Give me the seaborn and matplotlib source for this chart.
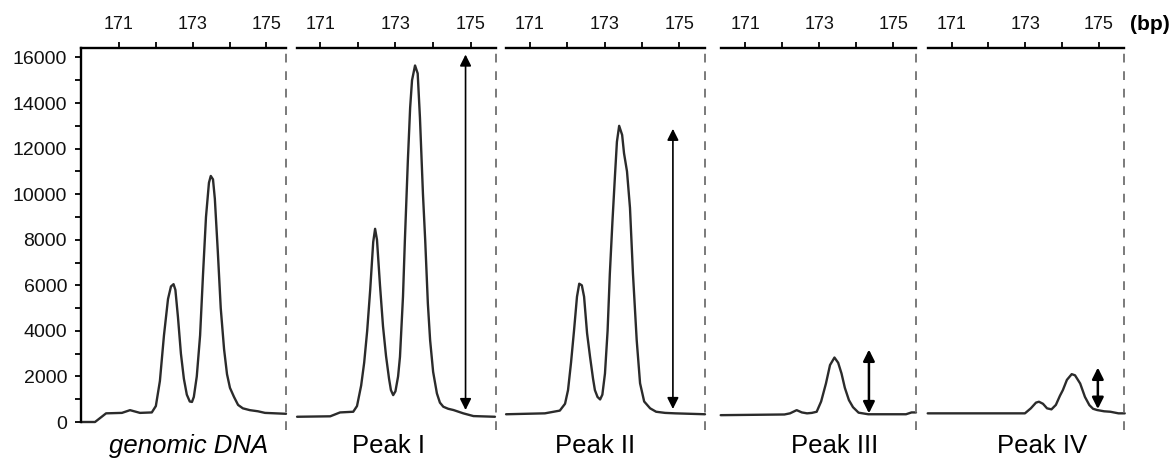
import matplotlib
matplotlib.use("Agg")
import matplotlib.pyplot as plt
import seaborn as sns
import pandas as pd

# ---------------- data (fragment size in bp, signal in RFU) ----------------
panel_names = ["genomic DNA", "Peak I", "Peak II", "Peak III", "Peak IV"]

gdna_bp = [169.97, 170.35, 170.65, 171.08, 171.30, 171.57, 171.89, 172.00, 172.11, 172.22,
           172.33, 172.41, 172.48, 172.53, 172.60, 172.68, 172.76, 172.84, 172.92, 172.98,
           173.03, 173.11, 173.20, 173.28, 173.36, 173.44, 173.49, 173.55, 173.60, 173.68,
           173.76, 173.85, 173.93, 174.01, 174.12, 174.23, 174.36, 174.55, 174.77, 174.96, 175.53]
gdna_rfu = [0, 0, 380, 400, 520, 400, 420, 700, 1800, 3800,
            5400, 5950, 6050, 5800, 4600, 3000, 1900, 1200, 900, 880,
            1100, 2000, 3800, 6500, 9000, 10500, 10800, 10650, 9800, 7500,
            5000, 3200, 2100, 1500, 1100, 750, 600, 520, 470, 400, 360]

p1_bp = [170.39, 171.27, 171.53, 171.88, 171.98, 172.09, 172.17, 172.25, 172.33, 172.41,
         172.46, 172.51, 172.59, 172.67, 172.75, 172.83, 172.88, 172.94, 173.00, 173.07,
         173.12, 173.20, 173.25, 173.33, 173.39, 173.44, 173.52, 173.59, 173.65, 173.73,
         173.79, 173.86, 173.92, 174.00, 174.10, 174.18, 174.27, 174.40, 174.54, 174.80,
         175.07, 175.64]
p1_rfu = [230, 250, 420, 450, 700, 1600, 2600, 4000, 5800, 7900,
          8480, 8000, 6000, 4200, 2900, 1900, 1400, 1180, 1350, 2000,
          2860, 5500, 7960, 11500, 13800, 15000, 15650, 15300, 13360, 10000,
          7960, 5200, 3590, 2200, 1255, 850, 670, 580, 525, 380,
          260, 230]

p2_bp = [170.36, 171.40, 171.80, 171.94, 172.02, 172.10, 172.18, 172.26, 172.32, 172.39,
         172.45, 172.53, 172.61, 172.69, 172.74, 172.81, 172.88, 172.94, 173.01, 173.08,
         173.14, 173.21, 173.28, 173.33, 173.39, 173.47, 173.52, 173.60, 173.68, 173.76,
         173.86, 173.95, 174.06, 174.22, 174.38, 174.62, 174.89, 175.69]
p2_rfu = [340, 380, 500, 800, 1400, 2600, 4000, 5500, 6070, 6000,
          5500, 3900, 2860, 1900, 1400, 1100, 990, 1200, 2130, 4000,
          6500, 8800, 10880, 12300, 13000, 12600, 11800, 11000, 9400, 6500,
          3590, 1700, 900, 600, 450, 400, 380, 340]

p3_bp = [170.34, 172.06, 172.21, 172.39, 172.53, 172.67, 172.80, 172.93, 173.05, 173.18,
         173.29, 173.41, 173.51, 173.60, 173.69, 173.80, 173.91, 174.06, 174.32, 175.34,
         175.49, 175.61]
p3_rfu = [300, 330, 380, 520, 420, 380, 400, 450, 900, 1690,
          2500, 2830, 2600, 2130, 1500, 960, 650, 410, 340, 340,
          420, 420]

p4_bp = [170.35, 172.99, 173.15, 173.29, 173.37, 173.48, 173.59, 173.71, 173.83, 173.94,
         174.02, 174.13, 174.26, 174.35, 174.49, 174.62, 174.74, 174.84, 174.95, 175.14,
         175.31, 175.53, 175.70]
p4_rfu = [380, 380, 600, 850, 890, 800, 600, 555, 750, 1150,
          1400, 1850, 2100, 2050, 1690, 1100, 740, 580, 525, 470,
          450, 380, 380]

trace_bp = [gdna_bp, p1_bp, p2_bp, p3_bp, p4_bp]
trace_rfu = [gdna_rfu, p1_rfu, p2_rfu, p3_rfu, p4_rfu]

# peak-height arrows (None = no arrow)
arrow_bp = [None, 174.86, 174.83, 174.34, 174.97]
arrow_low = [None, 525, 570, 380, 570]
arrow_high = [None, 16130, 12870, 3180, 2390]

xtick_major = [171, 173, 175]
xtick_minor = [172, 174]
ytick_major = [0, 2000, 4000, 6000, 8000, 10000, 12000, 14000, 16000]
ytick_minor = [1000, 3000, 5000, 7000, 9000, 11000, 13000, 15000]
x_unit = "(bp)"

# ---------------- layout ----------------
W, H = 1174, 461
panel_px = [(81, 286), (296.7, 495.7), (505.7, 705), (720.7, 916), (927.7, 1124)]
panel_xlim = [(169.97, 175.53), (170.38, 175.66), (170.35, 175.69), (170.34, 175.61), (170.35, 175.68)]
ylim = (0, 16430)
bottom_px, top_px = 422, 47.7
label_px = [188.5, 389, 595, 835, 1042.5]

sns.set_theme(style="white")
plt.rcParams["font.family"] = ["Liberation Sans", "DejaVu Sans"]

fig = plt.figure(figsize=(W / 100, H / 100), dpi=100)
fig.patch.set_facecolor("white")

for i in range(5):
    l, r = panel_px[i]
    ax = fig.add_axes([l / W, (H - bottom_px) / H, (r - l) / W, (bottom_px - top_px) / H])
    ax.set_facecolor("white")
    df = pd.DataFrame({"bp": trace_bp[i], "rfu": trace_rfu[i]})
    sns.lineplot(data=df, x="bp", y="rfu", ax=ax, color="#2b2b2b", lw=1.7, clip_on=False)
    ax.set_xlim(*panel_xlim[i])
    ax.set_ylim(*ylim)
    ax.set_xlabel("")
    ax.set_ylabel("")

    # top axis
    ax.xaxis.tick_top()
    ax.set_xticks(xtick_major)
    ax.set_xticks(xtick_minor, minor=True)
    ax.set_xticklabels([str(t) for t in xtick_major])
    ax.tick_params(axis="x", which="both", direction="out", length=4.5, width=1.3,
                   color="black", top=True, bottom=False, pad=6)
    ax.tick_params(axis="x", which="major", labelsize=13, labelcolor="#111111")
    for s in ["bottom", "left", "right"]:
        ax.spines[s].set_visible(False)
    ax.spines["top"].set_linewidth(1.7)
    ax.spines["top"].set_color("black")

    # dashed separator on right
    ax.axvline(panel_xlim[i][1], ymin=-0.022, ymax=1.0, color="#7a7a7a", lw=1.4,
               linestyle=(0, (4.5, 4.5)), clip_on=False)

    if i == 0:
        ax.spines["left"].set_visible(True)
        ax.spines["left"].set_linewidth(1.7)
        ax.spines["left"].set_color("black")
        ax.set_yticks(ytick_major)
        ax.set_yticks(ytick_minor, minor=True)
        ax.set_yticklabels([str(t) for t in ytick_major])
        ax.tick_params(axis="y", which="both", direction="out", length=4, width=1.3,
                       color="black", left=True, pad=6)
        ax.tick_params(axis="y", which="major", labelsize=14, labelcolor="#111111")
    else:
        ax.set_yticks([])
        ax.tick_params(axis="y", which="both", left=False, labelleft=False)

    if arrow_bp[i] is not None:
        ax.annotate("", xy=(arrow_bp[i], arrow_high[i]), xytext=(arrow_bp[i], arrow_low[i]),
                    arrowprops=dict(arrowstyle="<|-|>", color="black",
                                    lw=1.2 if i < 3 else 1.8,
                                    mutation_scale=17, shrinkA=0, shrinkB=0),
                    annotation_clip=False)

    fig.text(label_px[i] / W, (H - 453) / H, panel_names[i], ha="center", va="baseline",
             fontsize=18.5, color="black", style="italic" if i == 0 else "normal")

fig.text(1150 / W, (H - 25) / H, x_unit, ha="center", va="center", fontsize=15,
         fontweight="bold", color="black")

fig.savefig("out.png", dpi=100, facecolor="white")
